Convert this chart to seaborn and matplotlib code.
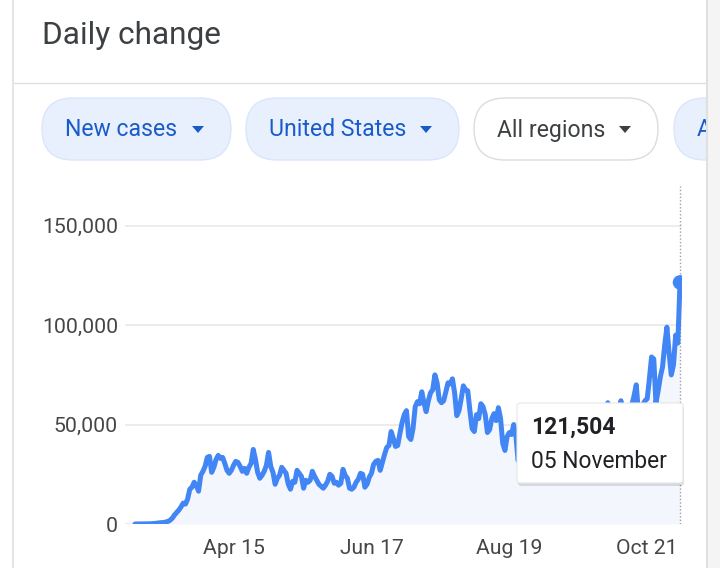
import matplotlib
matplotlib.use("Agg")
import matplotlib.pyplot as plt
from matplotlib.patches import FancyBboxPatch, Polygon, Rectangle
from matplotlib.lines import Line2D
from matplotlib.transforms import IdentityTransform
import seaborn as sns
import pandas as pd

# daily new cases, United States, 1 Mar - 5 Nov 2020
march = [10, 20, 25, 35, 70, 80, 120, 110, 190, 290, 420, 510, 680, 730, 1000,
         1280, 1900, 2900, 4500, 5800, 7000, 8600, 10500, 10000, 12500, 17500,
         18500, 21000, 19500, 16500, 24500]
april = [26500, 29000, 33500, 34000, 26000, 28500, 32500, 34500, 33000, 33500,
         30500, 27000, 25500, 27000, 29500, 31500, 31000, 29000, 26500, 28000,
         25500, 28500, 30500, 37500, 32500, 26000, 23000, 24500, 26500, 29500]
may = [36000, 29000, 26000, 20000, 23000, 24500, 28500, 27000, 25500, 20000,
       17500, 21500, 21000, 27000, 25500, 24000, 18000, 22000, 21000, 22000,
       26500, 24000, 22000, 20000, 19000, 18000, 19500, 21500, 25000, 24000, 20500]
june = [21000, 19500, 20500, 27500, 24500, 23000, 18000, 17500, 18500, 21000,
        22500, 25500, 25000, 18500, 20000, 23500, 25500, 30000, 31500, 32000,
        27000, 31000, 35000, 38500, 39500, 46500, 43000, 39000, 39500, 45500]
july = [51000, 55000, 57000, 44000, 42500, 48000, 59000, 61500, 60500, 66500,
        61000, 56500, 62000, 66000, 67500, 75000, 71000, 62500, 61000, 62000,
        66500, 71000, 70500, 73000, 66000, 54500, 57000, 63000, 69500, 67500, 67000]
august = [57000, 48000, 46500, 55000, 53000, 60500, 59000, 55000, 46000, 47500,
          53000, 55500, 52000, 58500, 53000, 40500, 37000, 44000, 46000, 45000,
          50000, 44500, 32000, 35500, 38500, 44500, 45500, 47500, 43500, 34500, 35000]
september = [42000, 31500, 44000, 51000, 43000, 31500, 24000, 26000, 33000, 35500,
             47500, 41500, 35000, 35500, 40000, 38500, 44000, 48500, 42500, 36500,
             51500, 39000, 38000, 44000, 55000, 47000, 34500, 36000, 41500, 44000]
october = [45000, 54500, 61000, 36000, 41000, 44500, 51000, 57000, 62000, 55000,
           46500, 42500, 52000, 60000, 64500, 70000, 56000, 49000, 60000, 62000,
           63000, 73000, 84000, 83000, 61000, 67000, 74000, 79000, 90000, 99000, 86000]
november = [75000, 80000, 95000, 91000, 121504]

tick_dates = ["2020-04-15", "2020-06-17", "2020-08-19", "2020-10-21"]
tick_labels = ["Apr 15", "Jun 17", "Aug 19", "Oct 21"]
y_ticks = [0, 50000, 100000, 150000]
y_labels = ["0", "50,000", "100,000", "150,000"]
chips = ["New cases", "United States", "All regions", "A"]

cases = march + april + may + june + july + august + september + october + november
df = pd.DataFrame({"date": pd.date_range("2020-03-01", periods=len(cases), freq="D"),
                   "cases": cases})

sns.set_theme(style="white")
plt.rcParams["font.family"] = ["Roboto", "DejaVu Sans"]

W, H = 720, 568
BLUE = "#4285f4"
fig = plt.figure(figsize=(W / 100, H / 100), dpi=100, facecolor="white")


def fx(x):
    return x / W


def fy(y):
    return 1 - y / H


ax = fig.add_axes([fx(125), fy(524), fx(682) - fx(125), (524 - 186) / H])
ax.set_facecolor("none")

ax.fill_between(df["date"], df["cases"], 0, color="#f3f6fd", lw=0, zorder=1)
sns.lineplot(data=df, x="date", y="cases", color=BLUE, lw=3.6, ax=ax, zorder=3)
last = df.iloc[[-1]]
sns.scatterplot(data=last, x="date", y="cases", color=BLUE, s=110, ax=ax,
                edgecolor="none", zorder=4)
ax.axvline(df["date"].iloc[-1], color="#9aa0a6", lw=1, ls=(0, (1, 1.5)), zorder=2)

ax.set_xlim(pd.Timestamp("2020-03-01") - pd.Timedelta(days=4.6),
            pd.Timestamp("2020-11-05") + pd.Timedelta(days=0.9))
ax.set_ylim(0, 170000)
ax.set_yticks(y_ticks)
ax.set_yticklabels(y_labels)
ax.set_xticks(pd.to_datetime(tick_dates))
ax.set_xticklabels(tick_labels)
ax.yaxis.grid(True, color="#e8eaed", lw=1.3)
ax.set_axisbelow(True)
for s in ax.spines.values():
    s.set_visible(False)
ax.tick_params(axis="y", length=0, pad=5, labelsize=15.3, labelcolor="#444746")
ax.tick_params(axis="x", length=9, width=1, color="#dadce0", direction="out",
               pad=2, labelsize=15.2, labelcolor="#444746")
ax.set_xlabel("")
ax.set_ylabel("")

ident = IdentityTransform()

# card edges and header
fig.add_artist(Line2D([13, 13], [0, H], color="#e6e6e6", lw=1.5, transform=ident))
fig.add_artist(Rectangle((708, 0), 12, H, fc="#f4f4f4", ec="none", transform=ident, zorder=5))
fig.add_artist(Line2D([707, 707], [0, H], color="#e0e0e0", lw=1.5, transform=ident, zorder=6))
fig.add_artist(Line2D([14, 707], [H - 83, H - 83], color="#e0e0e0", lw=1, transform=ident))
fig.text(fx(42), fy(36), "Daily change", fontsize=22.8, color="#3c4043", va="center")

# filter chips
chip_boxes = [(42, 231), (246, 459), (474, 658), (674, 760)]
for (x0, x1), label in zip(chip_boxes, chips):
    active = label != "All regions"
    fc = "#e8f0fe" if active else "white"
    ec = "#dbe6fb" if active else "#dadce0"
    tc = "#1a5bc9" if active else "#3c4043"
    fig.add_artist(FancyBboxPatch((x0, H - 160), x1 - x0, 62,
                                  boxstyle="round,pad=0,rounding_size=31",
                                  fc=fc, ec=ec, lw=1, transform=ident, zorder=2))
    fig.text(fx(x0 + 23), fy(130), label, fontsize=16.6, color=tc, va="center", zorder=3)
    if label != "A":
        cx = x1 - 33
        fig.add_artist(Polygon([[cx - 6, H - 126], [cx + 6, H - 126], [cx, H - 133]],
                               closed=True, fc=tc, ec="none", transform=ident, zorder=3))

# tooltip
fig.add_artist(FancyBboxPatch((518, H - 486), 166, 80, boxstyle="round,pad=0,rounding_size=3",
                              fc="#000000", ec="none", alpha=0.12, transform=ident, zorder=4))
fig.add_artist(FancyBboxPatch((517, H - 483), 166, 80, boxstyle="round,pad=0,rounding_size=3",
                              fc="white", ec="#e6e6e6", lw=0.8, transform=ident, zorder=4))
fig.text(fx(531), fy(427), f"{cases[-1]:,}", fontsize=16.5, fontweight="bold",
         color="#202124", va="center", zorder=5)
fig.text(fx(531), fy(462), "05 November", fontsize=16.4, color="#202124", va="center", zorder=5)

fig.savefig("out.png", dpi=100, facecolor="white")
